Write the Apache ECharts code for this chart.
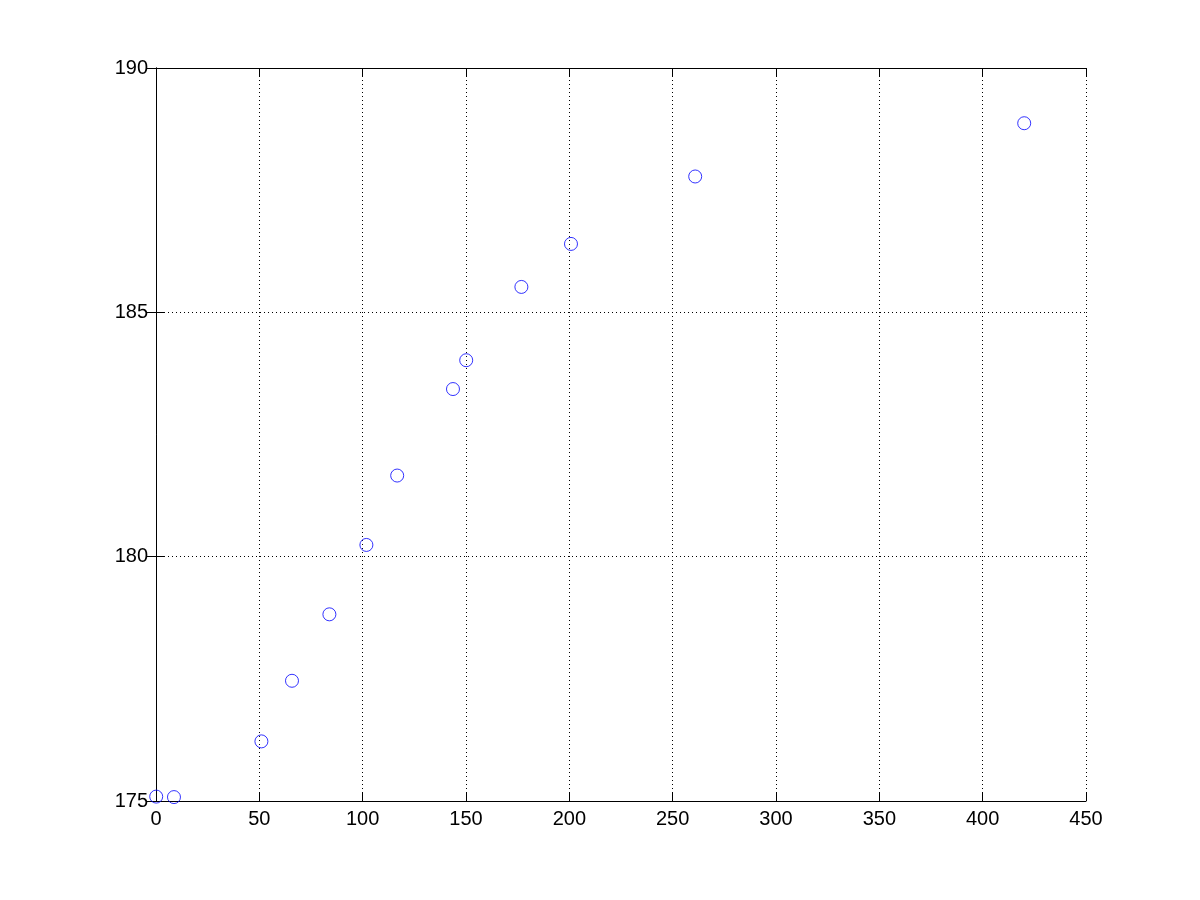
<!DOCTYPE html>
<html>
<head>
<meta charset="utf-8">
<script src="https://cdn.jsdelivr.net/npm/echarts@6/dist/echarts.min.js"></script>
<style>html,body{margin:0;padding:0;background:#fff;}#c{width:1200px;height:900px;}</style>
</head>
<body>
<div id="c"></div>
<script>
var xValues = [0.1, 8.7, 51.0, 65.8, 83.9, 101.8, 116.7, 143.7, 150.1, 176.8, 200.8, 260.9, 420.1];
var yValues = [175.09, 175.08, 176.22, 177.46, 178.82, 180.24, 181.66, 183.43, 184.02, 185.52, 186.40, 187.78, 188.87];
var xTicks = {min: 0, max: 450, interval: 50};
var yTicks = {min: 175, max: 190, interval: 5};

var pts = xValues.map(function (x, i) { return [x, yValues[i]]; });
var font = {fontFamily: 'Liberation Sans, Arial', fontSize: 20, color: '#000'};
var chart = echarts.init(document.getElementById('c'));
var lineStyle = {color: '#000', width: 1};
chart.setOption({
  animation: false,
  backgroundColor: '#fff',
  grid: {left: 156, right: 114, top: 68, bottom: 99, containLabel: false},
  xAxis: [{
    type: 'value', min: xTicks.min, max: xTicks.max, interval: xTicks.interval,
    position: 'bottom',
    axisLine: {show: true, lineStyle: lineStyle},
    axisTick: {show: true, inside: true, length: 9, lineStyle: lineStyle},
    axisLabel: Object.assign({margin: 8}, font),
    splitLine: {show: true, lineStyle: {color: '#000', width: 1, type: [1, 3]}}
  }, {
    type: 'value', min: xTicks.min, max: xTicks.max, interval: xTicks.interval,
    position: 'top',
    axisLine: {show: true, lineStyle: lineStyle},
    axisTick: {show: true, inside: true, length: 9, lineStyle: lineStyle},
    axisLabel: {show: false},
    splitLine: {show: false}
  }],
  yAxis: [{
    type: 'value', min: yTicks.min, max: yTicks.max, interval: yTicks.interval,
    position: 'left',
    axisLine: {show: true, lineStyle: lineStyle},
    axisTick: {show: true, inside: true, length: 9, lineStyle: lineStyle},
    axisLabel: Object.assign({margin: 8, padding: [0, 0, 10, 0]}, font),
    splitLine: {show: true, lineStyle: {color: '#000', width: 1, type: [1, 3]}}
  }, {
    type: 'value', min: yTicks.min, max: yTicks.max, interval: yTicks.interval,
    position: 'right',
    axisLine: {show: true, lineStyle: lineStyle},
    axisTick: {show: true, inside: true, length: 9, lineStyle: lineStyle},
    axisLabel: {show: false},
    splitLine: {show: false}
  }],
  series: [{
    type: 'scatter',
    data: pts,
    symbol: 'circle',
    symbolSize: 13,
    itemStyle: {color: 'rgba(0,0,0,0)', borderColor: '#0000ff', borderWidth: 1},
    emphasis: {disabled: true}
  }]
});
</script>
</body>
</html>
